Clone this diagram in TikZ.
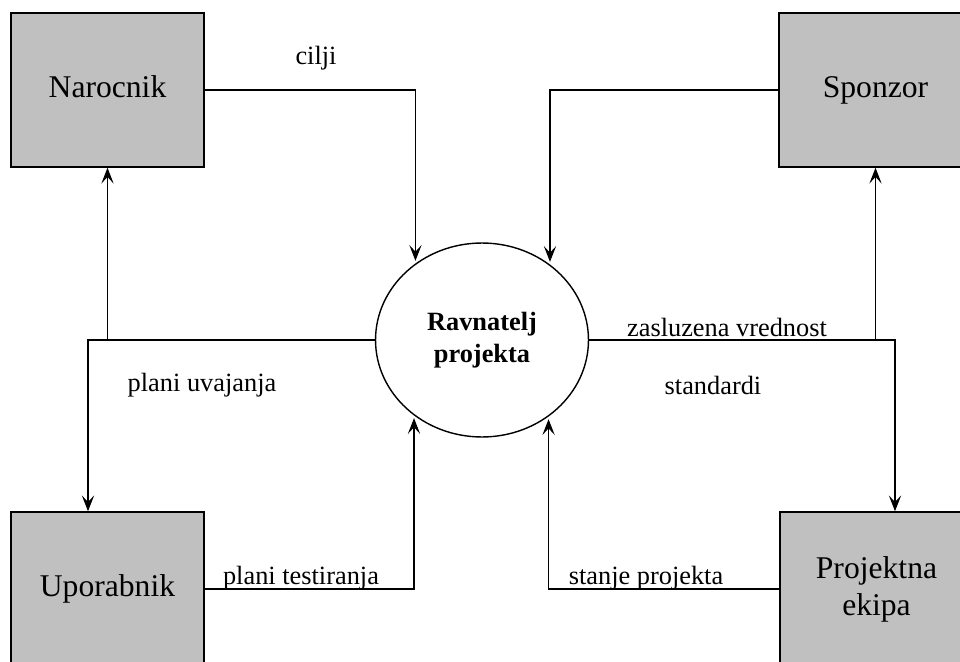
\documentclass[tikz,border=0pt]{standalone}
\usepackage{fontspec}
\setmainfont{Liberation Serif}
\usepackage{tikz}
\usetikzlibrary{shapes.geometric}
\usetikzlibrary{arrows.meta}
\usetikzlibrary{positioning}
\definecolor{boxgray}{HTML}{C0C0C0}

\begin{document}
\begin{tikzpicture}[x=0.02cm,y=-0.02cm,->,>={Stealth[length=9pt,width=7pt,inset=3.8pt]},
    line width=0.6pt,
    ext node/.style={rectangle,draw,fill=boxgray,line width=0.9pt,minimum width=3.86cm,minimum height=3.08cm,
      align=center,font=\fontsize{18}{21}\selectfont},
    pm node/.style={ellipse,draw,line width=0.8pt,minimum width=4.26cm,minimum height=3.88cm,inner sep=0pt,
      align=center,font=\fontsize{15}{18}\selectfont\bfseries},
    flow label/.style={font=\fontsize{15}{18}\selectfont,inner sep=0pt},
    to pm/.style={shorten >=1.5pt}]
    \clip (0,0) rectangle (960,662);
    \begin{scope}
      \node[pm node] (ravnatelj) at (482,340) {Ravnatelj\\projekta};
      \node[ext node] (narocnik) at (107.5,90) {Narocnik\strut};
      \node[ext node] (sponzor) at (875.5,90) {Sponzor\strut};
      \node[ext node] (uporabnik) at (107.5,589) {Uporabnik\strut};
      \node[ext node] (ekipa) at (876.5,589) {Projektna\\ekipa};

      %\path[->] (narocnik) edge (ravnatelj);
      \draw[to pm] (narocnik.east) -| (ravnatelj.131.8);
      \draw[to pm] (sponzor.west) -| (ravnatelj.48.2);
      \draw (ravnatelj.west) -| ([xshift=-0.39cm]uporabnik.north);
      \draw (narocnik.south |- ravnatelj.west) -- (narocnik.south);
      \draw (ravnatelj.east) -| ([xshift=0.37cm]ekipa.north);
      \draw (sponzor.south |- ravnatelj.east) -- (sponzor.south);
      \draw[to pm] (uporabnik.east) -| (ravnatelj.228.2);
      \draw[to pm] (ekipa.west) -| (ravnatelj.311.8);

      \node[flow label] (cilji) at (316,58) {cilji};
      \node[flow label] (vrednost) at (727,327) {zasluzena vrednost};
      \node[flow label] (standardi) at (713,385) {standardi};
      \node[flow label] (uvajanja) at (202,385) {plani uvajanja};
      \node[flow label] (testiranja) at (301,578) {plani testiranja};
      \node[flow label] (stanje) at (646,578) {stanje projekta};
    \end{scope}
  \end{tikzpicture}
\end{document}
